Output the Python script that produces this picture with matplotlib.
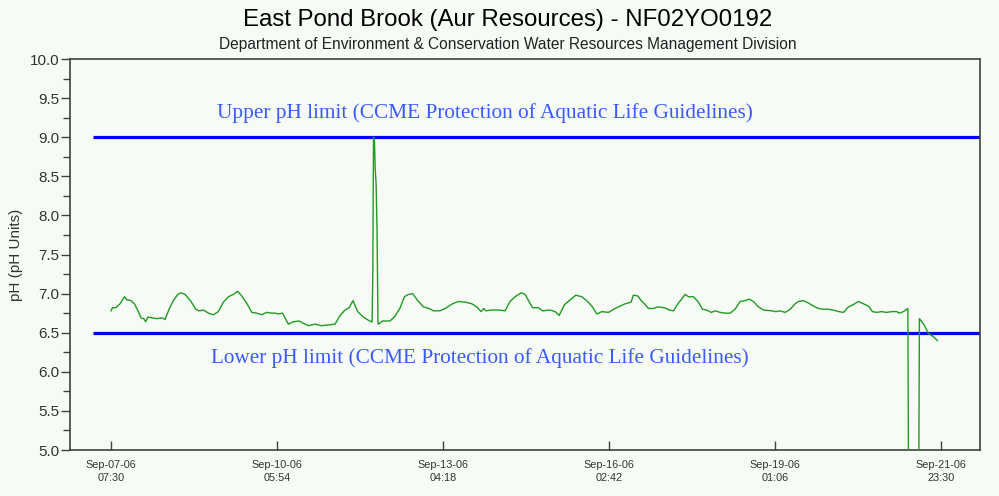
from datetime import datetime, timedelta
import matplotlib
matplotlib.use("Agg")
import matplotlib.pyplot as plt
import matplotlib.dates as mdates
from matplotlib.ticker import MultipleLocator, FormatStrFormatter

# hours after Sep-07-06 07:30 and pH readings
hours = [0.0, 0.6, 2.0, 3.8, 5.7, 6.7, 8.5, 9.9, 11.6, 12.7, 13.9, 14.7, 15.6, 17.3, 19.4,
         21.5, 22.9, 24.6, 26.4, 28.3, 29.7, 31.4, 33.9, 35.9, 37.3, 39.2, 41.3, 43.4, 45.5,
         47.6, 49.8, 51.9, 53.7, 55.4, 57.5, 59.7, 61.8, 63.9, 66.0, 68.2,
         69.6, 71.0, 72.7, 73.8, 75.2, 77.3, 79.7, 81.6, 83.7, 86.5, 89.3, 92.2, 95.0, 97.1,
         99.2, 101.0, 102.6, 104.6, 107.0, 109.1, 110.5, 110.7, 111.0, 111.3, 111.7, 112.0,
         112.4, 112.8, 113.2, 113.4, 115.1, 118.3, 120.4, 122.6, 124.4, 126.1, 127.9, 130.1,
         132.5, 134.9, 136.7, 139.5,
         141.7, 144.8, 147.3, 150.4, 153.0, 155.1, 156.9, 158.0, 158.9, 161.4, 164.3, 167.1,
         169.2, 171.3, 173.9, 175.6, 178.7, 181.2, 183.0, 186.2, 188.3, 190.0, 192.3, 194.7,
         197.1, 199.6, 201.7, 203.9, 206.0, 208.1, 210.9, 213.7,
         215.9, 218.0, 220.5, 221.5, 223.4, 224.8, 226.5, 227.9, 230.0, 231.8, 234.7, 236.7,
         238.5, 240.6, 242.0, 243.4, 244.9, 247.0, 249.1, 250.8, 252.6, 254.5, 256.2, 258.3,
         260.4, 262.5, 264.6, 266.8, 268.9, 270.6, 272.4, 274.5, 276.7, 280.2, 281.9, 283.7,
         285.9, 288.0, 290.1, 291.5, 293.6, 295.7, 297.9, 300.0, 302.1, 304.2, 306.3, 308.5,
         310.6, 312.7, 314.8, 316.9, 319.1, 321.2, 322.9, 324.7, 326.8, 328.9, 331.1, 333.2,
         334.2, 336.0, 337.9, 338.2, 342.5, 342.8, 344.8, 346.6, 348.7, 350.4]
ph = [6.78, 6.82, 6.82, 6.87, 6.96, 6.92, 6.91, 6.87, 6.77, 6.69, 6.68, 6.64, 6.70, 6.69, 6.68,
      6.69, 6.67, 6.80, 6.91, 6.99, 7.01, 6.99, 6.90, 6.80, 6.78, 6.79, 6.75, 6.73, 6.77,
      6.89, 6.96, 6.99, 7.03, 6.97, 6.88, 6.76, 6.75, 6.73, 6.76, 6.75,
      6.75, 6.74, 6.75, 6.69, 6.61, 6.64, 6.65, 6.62, 6.59, 6.61, 6.59, 6.60, 6.61, 6.72,
      6.79, 6.82, 6.91, 6.77, 6.70, 6.66, 6.64, 6.64, 7.25, 9.00, 8.95, 8.60,
      8.40, 7.80, 6.62, 6.61, 6.65, 6.65, 6.71, 6.82, 6.96, 6.99, 7.00, 6.91,
      6.83, 6.81, 6.78, 6.78,
      6.81, 6.87, 6.90, 6.89, 6.87, 6.83, 6.77, 6.81, 6.78, 6.79, 6.79, 6.78,
      6.90, 6.96, 7.01, 6.99, 6.82, 6.82, 6.78, 6.79, 6.77, 6.72, 6.86, 6.92,
      6.98, 6.96, 6.91, 6.84, 6.74, 6.77, 6.76, 6.81,
      6.84, 6.87, 6.89, 6.98, 6.97, 6.91, 6.86, 6.81, 6.81, 6.83, 6.82, 6.79,
      6.78, 6.88, 6.93, 6.99, 6.96, 6.96, 6.89, 6.80, 6.79, 6.76, 6.78, 6.76,
      6.75, 6.75, 6.80, 6.90, 6.91, 6.93, 6.90, 6.83, 6.79, 6.78, 6.77, 6.78,
      6.76, 6.80, 6.87, 6.90, 6.91, 6.88, 6.84, 6.81, 6.80, 6.80, 6.79, 6.77,
      6.76, 6.83, 6.86, 6.90, 6.87, 6.84, 6.77, 6.76, 6.77, 6.76, 6.77, 6.77,
      6.75, 6.77, 6.81, 4.50, 4.50, 6.68, 6.60, 6.49, 6.45, 6.40]

start = datetime(2006, 9, 7, 7, 30)
tick_step_h = 70.4
upper_limit = 9.0
lower_limit = 6.5
upper_text = "Upper pH limit (CCME Protection of Aquatic Life Guidelines)"
lower_text = "Lower pH limit (CCME Protection of Aquatic Life Guidelines)"

bg = "#f6fbf6"
times = [start + timedelta(hours=h) for h in hours]

fig = plt.figure(figsize=(9.99, 4.96), dpi=100, facecolor=bg)
ax = fig.add_axes([0.0701, 0.0927, 0.9109, 0.7883], facecolor=bg)

x0 = start - timedelta(hours=17.4)
x1 = start + timedelta(hours=368.5)
line_start = start - timedelta(hours=7.5)

ax.hlines([upper_limit, lower_limit], line_start, x1, colors="#0000f0", lw=2.3, zorder=2)
ax.plot(times, ph, color="#229a22", lw=1.0, zorder=3)

ax.text(start + timedelta(hours=158.4), 9.31, upper_text, ha="center", va="center",
        color="#3a5aff", fontsize=15.3, family="Liberation Serif")
ax.text(start + timedelta(hours=156.3), 6.17, lower_text, ha="center", va="center",
        color="#3a5aff", fontsize=15.3, family="Liberation Serif")

ax.set_xlim(x0, x1)
ax.set_ylim(5.0, 10.0)
ax.yaxis.set_major_locator(MultipleLocator(0.5))
ax.yaxis.set_minor_locator(MultipleLocator(0.25))
ax.yaxis.set_major_formatter(FormatStrFormatter("%.1f"))

ticks = [start + timedelta(hours=tick_step_h * k) for k in range(6)]
ax.set_xticks(ticks)
ax.xaxis.set_major_formatter(mdates.DateFormatter("%b-%d-%y\n%H:%M"))

ax.tick_params(axis="y", which="major", direction="out", length=6.5, width=1,
               color="#404040", labelsize=11, labelcolor="#333333", pad=1)
ax.tick_params(axis="y", which="minor", direction="out", length=5, width=1, color="#404040")
ax.tick_params(axis="x", which="major", direction="in", length=6.5, width=1,
               color="#404040", labelsize=7.8, labelcolor="#333333", pad=7)
for lbl in ax.get_xticklabels():
    lbl.set_family("Liberation Sans")
    lbl.set_linespacing(1.45)
for lbl in ax.get_yticklabels():
    lbl.set_family("Liberation Sans")

for s in ax.spines.values():
    s.set_color("#404040")
    s.set_linewidth(1.2)

ax.set_ylabel("pH (pH Units)", fontsize=11, color="#333333", family="Liberation Sans", labelpad=5)

fig.text(0.508, 0.959, "East Pond Brook (Aur Resources) - NF02YO0192", ha="center", va="center",
         fontsize=17.3, family="Liberation Sans", color="black")
fig.text(0.508, 0.911, "Department of Environment & Conservation Water Resources Management Division",
         ha="center", va="center", fontsize=11.2, family="Liberation Sans", color="#222222")

fig.savefig("out.png", dpi=100, facecolor=bg)
